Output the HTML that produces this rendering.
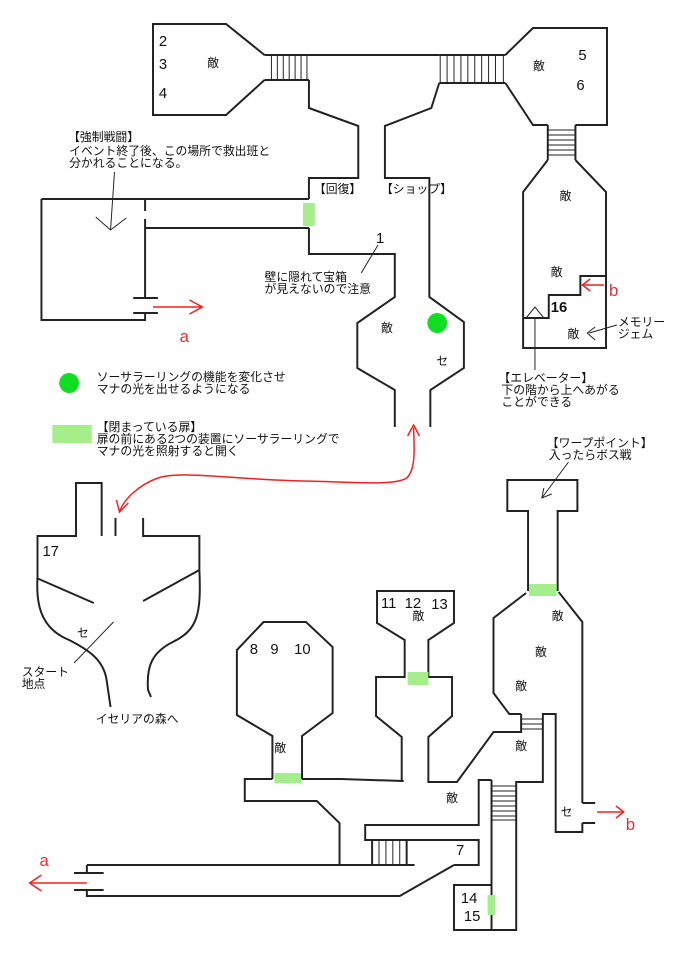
<!DOCTYPE html>
<html><head><meta charset="utf-8"><style>
html,body{margin:0;padding:0;background:#fff;}
svg{display:block;}
text{font-family:"Liberation Sans","Noto Sans CJK JP",sans-serif;fill:#111;}
.j{font-size:12px;}
.n{font-size:15px;}
</style></head><body>
<svg width="681" height="974" viewBox="0 0 681 974" xmlns="http://www.w3.org/2000/svg">
<g transform="scale(0.987,1)">
<g fill="none" stroke="#222" stroke-width="2">
<!-- top left room -->
<polyline points="268,55 229,24 155,24 155,115 229,115 268,80"/>
<line x1="268" y1="55" x2="313" y2="55"/><line x1="268" y1="80" x2="313" y2="80"/>
<g stroke-width="1"><line x1="275" y1="55" x2="275" y2="80"/><line x1="281" y1="55" x2="281" y2="80"/><line x1="287" y1="55" x2="287" y2="80"/><line x1="293" y1="55" x2="293" y2="80"/><line x1="299" y1="55" x2="299" y2="80"/><line x1="305" y1="55" x2="305" y2="80"/><line x1="311" y1="55" x2="311" y2="80"/></g>
<line x1="313" y1="55" x2="445" y2="55"/>
<!-- right stairs -->
<line x1="445" y1="55" x2="512" y2="55"/><line x1="445" y1="83" x2="512" y2="83"/>
<g stroke-width="1"><line x1="446" y1="55" x2="446" y2="83"/><line x1="453" y1="55" x2="453" y2="83"/><line x1="460" y1="55" x2="460" y2="83"/><line x1="467" y1="55" x2="467" y2="83"/><line x1="474" y1="55" x2="474" y2="83"/><line x1="481" y1="55" x2="481" y2="83"/><line x1="488" y1="55" x2="488" y2="83"/><line x1="495" y1="55" x2="495" y2="83"/><line x1="502" y1="55" x2="502" y2="83"/><line x1="510" y1="55" x2="510" y2="83"/></g>
<!-- top right room -->
<polyline points="512,55 540,28 615,28 615,125 583,125"/>
<polyline points="512,83 540,125 555,125"/>
<line x1="555" y1="125" x2="555" y2="160"/><line x1="583" y1="125" x2="583" y2="160"/>
<g stroke-width="1"><line x1="555" y1="130" x2="583" y2="130"/><line x1="555" y1="135" x2="583" y2="135"/><line x1="555" y1="140" x2="583" y2="140"/><line x1="555" y1="145" x2="583" y2="145"/><line x1="555" y1="150" x2="583" y2="150"/><line x1="555" y1="155" x2="583" y2="155"/></g>
<!-- elevator tower -->
<polyline points="555,160 530,192 530,348 614,348 614,192 583,160"/>
<polyline points="530,318 556,318 556,295 588,295 588,276 614,276"/>
<polyline stroke-width="1" points="533,318 542,307 551,318"/>
<line stroke-width="1" x1="542" y1="318" x2="542" y2="370"/>
<!-- center shaft -->
<polyline points="313,80 313,108 363,126 363,178 313,178 313,199"/>
<polyline points="445,83 437,108 390,126 390,178 435,178 435,297 470,322 470,368 436,390 436,427"/>
<polyline points="313,228 313,254 400,254 400,297 362,323 362,368 400,390 400,427"/>
<!-- left corridor & rect -->
<line x1="42" y1="199" x2="313" y2="199"/>
<line x1="147" y1="228" x2="313" y2="228"/>
<polyline points="147,199 147,211"/>
<polyline points="147,219 147,298"/>
<polyline points="147,313 147,320 42,320 42,199"/>
<line x1="135" y1="298" x2="160" y2="298"/><line x1="135" y1="313" x2="160" y2="313"/>
<!-- room 17 -->
<polyline points="103,536 103,483 77,483 77,536 38,536 38,578 C"/>
<path d="M38,578 C36,610 45,630 70,640 C90,650 105,660 108,680 L112,707"/>
<path d="M145,518 L145,536 L202,536 L202,570 C204,615 200,630 175,642 C155,652 148,665 150,690 L153,697"/>
<line x1="117" y1="518" x2="117" y2="536"/>
<line x1="37" y1="578" x2="95" y2="603"/><line x1="202" y1="570" x2="145" y2="601"/>
<!-- room 8 9 10 -->
<polyline points="276,779 276,736 240,715 240,650 267,622 310,622 337,647 337,713 306,736 306,779"/>
<!-- corridor -->
<polyline points="276,779 248,779 248,801 321,801 344,823 344,865"/>
<polyline points="306,779 345,779 409,781"/>
<line x1="88" y1="865" x2="420" y2="865"/>
<polyline points="88,865 88,873"/><line x1="75" y1="873" x2="105" y2="873"/>
<line x1="75" y1="890" x2="105" y2="890"/><polyline points="88,890 88,896 405,896 460,865"/>
<polyline points="460,865 485,865 485,840 370,840 370,825 485,825 485,780 498,780"/>
<line x1="377" y1="840" x2="377" y2="865"/><line x1="412" y1="840" x2="412" y2="865"/>
<g stroke-width="1"><line x1="384" y1="840" x2="384" y2="865"/><line x1="391" y1="840" x2="391" y2="865"/><line x1="398" y1="840" x2="398" y2="865"/><line x1="405" y1="840" x2="405" y2="865"/></g>
<!-- room 11 12 13 -->
<polyline points="407,782 407,737 381,716 381,677 410,677 410,640 382,623 382,591 460,591 460,623 434,640 434,677 458,677 458,716 434,737 434,782 463,782 500,732 528,732 528,714"/>
<!-- 14 15 & stair column -->
<polyline points="498,885 460,885 460,930 498,930"/>
<polyline points="498,780 498,930 523,930 523,782 550,782 550,714 563,714 563,832 590,832 590,823"/>
<g stroke-width="1"><line x1="498" y1="786" x2="523" y2="786"/><line x1="498" y1="791" x2="523" y2="791"/><line x1="498" y1="796" x2="523" y2="796"/><line x1="498" y1="801" x2="523" y2="801"/><line x1="498" y1="806" x2="523" y2="806"/><line x1="498" y1="811" x2="523" y2="811"/><line x1="498" y1="816" x2="523" y2="816"/><line x1="498" y1="820" x2="523" y2="820"/>
<line x1="528" y1="719" x2="550" y2="719"/><line x1="528" y1="724" x2="550" y2="724"/><line x1="528" y1="729" x2="550" y2="729"/></g>
<line x1="590" y1="803" x2="603" y2="803"/><line x1="590" y1="823" x2="603" y2="823"/>
<!-- right tower -->
<polyline points="535,591 535,511 514,511 514,480 585,480 585,511 565,511 565,591"/>
<polyline points="533,593 500,618 500,693 516,714 528,714"/>
<polyline points="566,592 590,622 590,803"/>
</g>
<!-- green doors -->
<g fill="#a6ee8c">
<rect x="307" y="203" width="12" height="23"/>
<rect x="278" y="773" width="27" height="10"/>
<rect x="413" y="672" width="21" height="13"/>
<rect x="536" y="584" width="28" height="12"/>
<rect x="494" y="895" width="8" height="20"/>
<rect x="53" y="425" width="40" height="18"/>
</g>
<circle cx="443" cy="323" r="10" fill="#11dd22"/>
<circle cx="70" cy="383" r="10" fill="#11dd22"/>
<!-- pointers -->
<g fill="none" stroke="#222" stroke-width="1">
<line x1="116" y1="172" x2="112" y2="230"/><polyline points="97,217 112,230 128,218"/>
<line x1="383" y1="245" x2="366" y2="273"/>
<line x1="625" y1="325" x2="597" y2="333"/><polyline points="603,327 595,333 603,340"/>
<line x1="115" y1="622" x2="75" y2="663"/>
<line x1="576" y1="462" x2="549" y2="498"/><polyline points="551,488 549,498 559,494"/>
</g>
<!-- red arrows -->
<g fill="none" stroke="#e22" stroke-width="1.5">
<line x1="155" y1="307" x2="205" y2="307"/><polyline points="192,300 205,307 192,314"/>
<line x1="30" y1="883" x2="88" y2="883"/><polyline points="42,875 30,883 42,891"/>
<line x1="612" y1="285" x2="590" y2="285"/><polyline points="598,279 590,285 598,291"/>
<line x1="605" y1="812" x2="632" y2="812"/><polyline points="624,806 632,812 624,818"/>
<path d="M419,428 C420,450 421,470 412,478 C400,486 360,482 308,481 C240,480 185,470 160,478 C140,485 125,500 121,512"/>
<polyline points="413,436 419,425 425,436"/>
<polyline points="118,500 121,512 130,503"/>
</g>
<g fill="#d33" style="font-size:16px">
<text x="182" y="342" style="fill:#d33;font-size:17px">a</text>
<text x="40" y="866" style="fill:#d33;font-size:17px">a</text>
<text x="617" y="296" style="fill:#d33;font-size:17px">b</text>
<text x="634" y="830" style="fill:#d33;font-size:17px">b</text>
</g>
<!-- labels -->
<text class="n" x="161" y="46">2</text><text class="n" x="161" y="69">3</text><text class="n" x="161" y="98">4</text>
<text class="j" x="210" y="67">敵</text>
<text class="n" x="586" y="60">5</text><text class="n" x="584" y="90">6</text>
<text class="j" x="540" y="70">敵</text>
<text class="j" x="567" y="200">敵</text><text class="j" x="558" y="276">敵</text><text class="j" x="575" y="338">敵</text>
<text class="n" x="558" y="312" style="font-weight:bold">16</text>
<text class="j" x="626" y="326">メモリー</text><text class="j" x="626" y="338">ジェム</text>
<text class="j" x="505" y="382">【エレベーター】</text><text class="j" x="508" y="394">下の階から上へあがる</text><text class="j" x="508" y="406">ことができる</text>
<text class="j" x="318" y="193">【回復】</text><text class="j" x="386" y="193">【ショップ】</text>
<text class="n" x="381" y="243">1</text>
<text class="j" x="268" y="281">壁に隠れて宝箱</text><text class="j" x="268" y="293">が見えないので注意</text>
<text class="j" x="386" y="332">敵</text><text class="j" x="442" y="365">セ</text>
<text class="j" x="69" y="141">【強制戦闘】</text><text class="j" x="70" y="155">イベント終了後、この場所で救出班と</text><text class="j" x="70" y="167">分かれることになる。</text>
<text class="j" x="98" y="381">ソーサラーリングの機能を変化させ</text><text class="j" x="98" y="393">マナの光を出せるようになる</text>
<text class="j" x="98" y="431">【閉まっている扉】</text><text class="j" x="98" y="443">扉の前にある2つの装置にソーサラーリングで</text><text class="j" x="98" y="455">マナの光を照射すると開く</text>
<text class="j" x="554" y="447">【ワープポイント】</text><text class="j" x="556" y="459">入ったらボス戦</text>
<text class="n" x="43" y="556">17</text>
<text class="j" x="78" y="637">セ</text>
<text class="j" x="22" y="676">スタート</text><text class="j" x="22" y="688">地点</text>
<text class="j" x="97" y="723">イセリアの森へ</text>
<text class="n" x="253" y="654">8</text><text class="n" x="274" y="654">9</text><text class="n" x="298" y="654">10</text>
<text class="j" x="278" y="752">敵</text>
<text class="n" x="386" y="608">11</text><text class="n" x="410" y="608">12</text><text class="n" x="437" y="609">13</text>
<text class="j" x="418" y="620">敵</text>
<text class="j" x="559" y="620">敵</text><text class="j" x="542" y="656">敵</text><text class="j" x="522" y="690">敵</text><text class="j" x="522" y="750">敵</text><text class="j" x="452" y="802">敵</text>
<text class="j" x="568" y="816">セ</text>
<text class="n" x="462" y="855">7</text>
<text class="n" x="467" y="903">14</text><text class="n" x="470" y="921">15</text>
</g>
</svg>
</body></html>
